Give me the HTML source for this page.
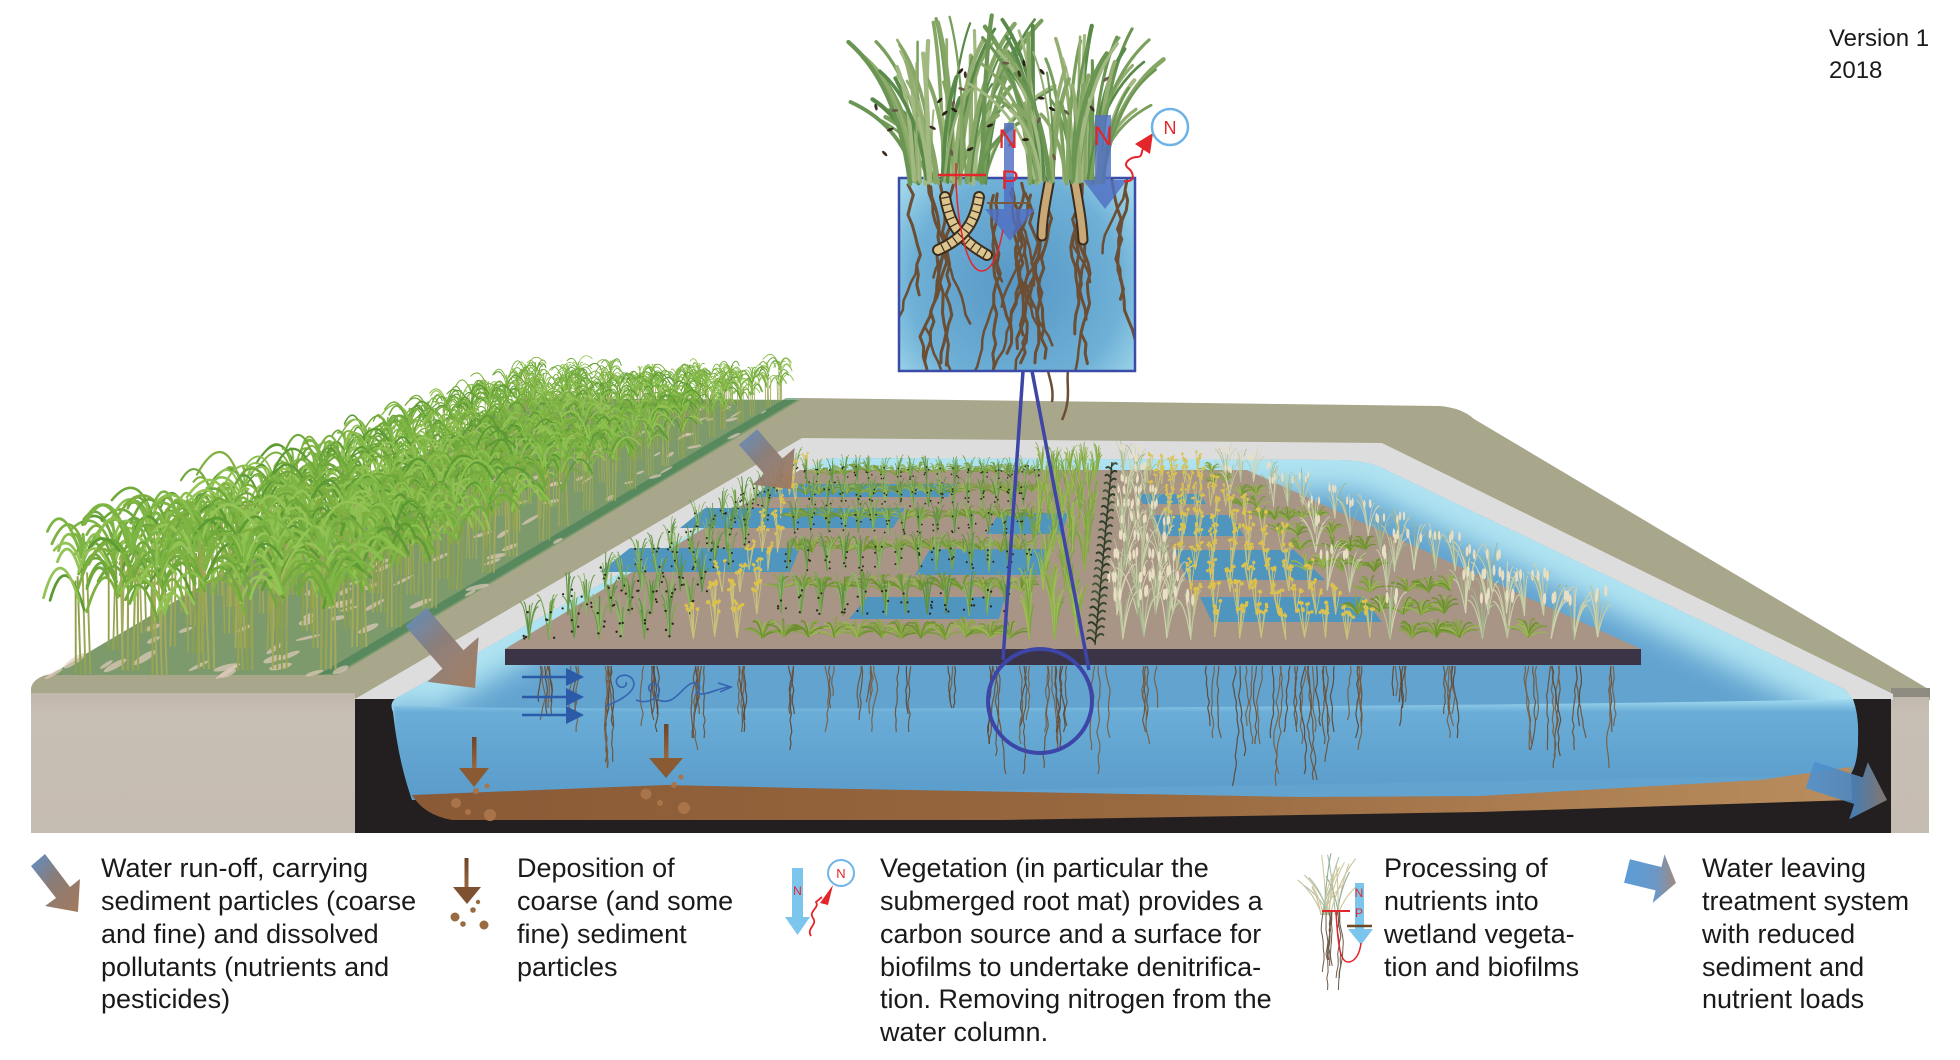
<!DOCTYPE html>
<html><head><meta charset="utf-8">
<style>
html,body{margin:0;padding:0;background:#fff;}
svg{display:block;}
text{font-family:"Liberation Sans",Arial,sans-serif;}
</style></head><body>
<svg id="s" width="1960" height="1060" viewBox="0 0 1960 1060" xmlns="http://www.w3.org/2000/svg">
<defs>
 <linearGradient id="wface" x1="0" y1="700" x2="0" y2="800" gradientUnits="userSpaceOnUse">
  <stop offset="0" stop-color="#9fd8ee"/><stop offset="0.12" stop-color="#6aadd7"/><stop offset="1" stop-color="#5a9bca"/>
 </linearGradient>
 <linearGradient id="sed" x1="412" y1="0" x2="1850" y2="0" gradientUnits="userSpaceOnUse">
  <stop offset="0" stop-color="#8a5a36"/><stop offset="0.5" stop-color="#98683f"/><stop offset="1" stop-color="#b98d5d"/>
 </linearGradient>
 <linearGradient id="ra" x1="0" y1="0" x2="1" y2="1">
  <stop offset="0" stop-color="#5f8fc6"/><stop offset="0.45" stop-color="#8a7c78"/><stop offset="1" stop-color="#a4795a"/>
 </linearGradient>
 <linearGradient id="ea" x1="0" y1="0" x2="1" y2="0">
  <stop offset="0" stop-color="#4f93d2"/><stop offset="0.6" stop-color="#4e86bd"/><stop offset="1" stop-color="#8d7f76"/>
 </linearGradient>
 <linearGradient id="la" x1="0" y1="0" x2="1" y2="0">
  <stop offset="0" stop-color="#5b9dd8"/><stop offset="0.6" stop-color="#6a98c8"/><stop offset="1" stop-color="#a08a80"/>
 </linearGradient>
 <linearGradient id="dep" x1="0" y1="0" x2="0" y2="1">
  <stop offset="0" stop-color="#6e4426"/><stop offset="1" stop-color="#9a683e"/>
 </linearGradient>
 <radialGradient id="boxg" cx="1016" cy="285" r="150" gradientUnits="userSpaceOnUse">
  <stop offset="0" stop-color="#5797c6"/><stop offset="0.7" stop-color="#6eb0d6"/><stop offset="1" stop-color="#9fd6ea"/>
 </radialGradient>
 <linearGradient id="beige" x1="0" y1="0" x2="0" y2="1">
  <stop offset="0" stop-color="#bfb6ac"/><stop offset="0.15" stop-color="#c7beb4"/><stop offset="1" stop-color="#c5bcb2"/>
 </linearGradient>
 <clipPath id="boxclip"><rect x="899" y="178" width="236" height="193"/></clipPath>
 <clipPath id="wclip"><path d="M393,712 Q388,701 400,696 L818,463 Q826,458 838,458 L1340,460 Q1370,461 1386,470 L1844,689 Q1858,700 1858,735 Q1858,765 1850,772 L1850,800 L412,800 Q398,760 393,712 Z"/></clipPath>
 <filter id="blur" x="-10%" y="-10%" width="120%" height="120%"><feGaussianBlur stdDeviation="14"/></filter>
</defs>

<!-- khaki embankment -->
<path d="M31,698 L31,688 Q33,679 46,675 L57,673 L337,673 L800,398 L1440,406 Q1462,408 1474,419 L1930,690 L1930,700 Z" fill="#a8a68b"/>
<!-- beige blocks -->
<rect x="31" y="693" width="324" height="140" fill="url(#beige)"/>
<rect x="1891" y="694" width="38" height="139" fill="url(#beige)"/>
<path d="M1891,688 L1930,688 L1930,697 L1891,697 Z" fill="#8e8b80"/>

<!-- field floor -->
<path d="M50,675 L337,675 L800,400 L520,398 Z" fill="#7c9a6c"/>
<path d="M318,675 L337,673 L800,398 L786,398 Z" fill="#3f7d55" opacity="0.6"/>
<g id="floor"></g>

<!-- gray rim -->
<path d="M355,699 L802,438 L1382,443 L1893,694 L1893,700 L355,700 Z" fill="#dddddd"/>
<!-- pit -->
<rect x="355" y="699" width="1536" height="134" fill="#231f20"/>
<!-- water surface -->
<path d="M393,712 Q388,701 400,696 L818,463 Q826,458 838,458 L1340,460 Q1370,461 1386,470 L1844,689 Q1858,700 1858,735 Q1858,765 1850,772 L1850,800 L412,800 Q398,760 393,712 Z" fill="#62a3cf"/>
<g clip-path="url(#wclip)">
 <path d="M393,712 Q388,701 400,696 L818,463 Q826,458 838,458 L1340,460 Q1370,461 1386,470 L1844,689 Q1858,700 1858,735 Q1858,765 1850,772" fill="none" stroke="#b0e4f2" stroke-width="60" filter="url(#blur)"/>
</g>
<!-- water front face -->
<path d="M394,706 C600,712 1500,707 1853,699 Q1859,715 1858,738 Q1858,765 1850,775 L412,800 Q399,760 394,706 Z" fill="url(#wface)"/>
<!-- sediment -->
<path d="M412,795 L666,785 L800,788 L1300,797 L1480,796 L1760,780 L1851,767 L1852,800 L1480,812 L1000,820 L452,820 Q424,815 412,795 Z" fill="url(#sed)"/>
<g fill="#a9744a">
 <circle cx="456" cy="803" r="5"/><circle cx="468" cy="812" r="3"/><circle cx="490" cy="815" r="6"/><circle cx="476" cy="791" r="3"/><circle cx="487" cy="786" r="2.5"/>
 <circle cx="646" cy="794" r="5.5"/><circle cx="660" cy="803" r="3"/><circle cx="684" cy="808" r="6"/><circle cx="674" cy="785" r="3"/><circle cx="681" cy="777" r="2.5"/>
</g>

<!-- platform -->
<path d="M505,649 L1641,649 L1247,470 L800,470 Z" fill="#a89585"/>
<g fill="#4f95bd">
 <path d="M768,484 L955,484 L948,497 L755,497 Z"/>
 <path d="M705,508 L905,508 L893,528 L680,528 Z"/>
 <path d="M630,548 L800,548 L790,572 L600,572 Z"/>
 <path d="M999,513 L1068,513 L1062,534 L986,534 Z"/>
 <path d="M930,549 L1049,549 L1040,575 L915,575 Z"/>
 <path d="M867,597 L1005,597 L999,619 L849,619 Z"/>
 <path d="M1137,494 L1200,494 L1206,504 L1143,504 Z"/>
 <path d="M1153,515 L1231,515 L1244,536 L1162,536 Z"/>
 <path d="M1175,550 L1294,550 L1325,580 L1187,580 Z"/>
 <path d="M1200,597 L1363,597 L1382,622 L1212,622 Z"/>
</g>
<rect x="505" y="649" width="1136" height="16" fill="#3a3446"/>
<g id="plat"></g>
<g id="proots"></g>

<!-- field plants -->
<g id="field"></g>

<!-- flow arrows -->
<g fill="#2b5aa8" stroke="#2b5aa8">
 <line x1="522" y1="677" x2="568" y2="677" stroke-width="2.5"/><polygon points="566,668 584,677 566,686" stroke="none"/>
 <line x1="522" y1="697" x2="568" y2="697" stroke-width="2.5"/><polygon points="566,688 584,697 566,706" stroke="none"/>
 <line x1="522" y1="715" x2="568" y2="715" stroke-width="2.5"/><polygon points="566,706 584,715 566,724" stroke="none"/>
</g>
<g fill="none" stroke="#3565b0" stroke-width="1.6">
 <path d="M606,706 C622,700 638,690 633,680 C628,671 613,676 617,684 C620,690 628,687 626,682"/>
 <path d="M636,700 C650,706 664,694 658,686 C652,679 645,688 651,692"/>
 <path d="M658,700 C674,706 680,690 690,684 C699,679 703,690 696,693"/>
 <path d="M696,693 C706,697 716,688 730,687"/>
 <path d="M718,683 L731,687 L720,692"/>
</g>
<!-- deposition arrows -->
<rect x="472" y="737" width="4.5" height="32" fill="url(#dep)"/>
<polygon points="459,768 489,768 474,787" fill="#8a5a33"/>
<rect x="664" y="724" width="4.5" height="35" fill="url(#dep)"/>
<polygon points="649,758 683,758 666,778" fill="#8a5a33"/>

<!-- run-off arrows -->
<polygon points="426.5,607.8 463.5,650.2 478.6,637 475,688 427.4,681.8 442.5,668.6 405.5,626.2" fill="url(#ra)" opacity="0.95"/>
<polygon points="757.1,429.2 782.5,458.5 794.6,448 791,489 752.2,484.6 764.3,474.1 738.9,444.8" fill="url(#ra)" opacity="0.95"/>
<!-- exit arrow -->
<polygon points="1814.3,761.7 1862.8,777.4 1867.8,762.2 1887,800 1849.2,819.2 1854.2,804 1805.7,788.3" fill="url(#ea)" opacity="0.9"/>

<!-- magnifier -->
<circle cx="1040" cy="701" r="52" fill="none" stroke="#3d45a6" stroke-width="4"/>
<line x1="1023" y1="371" x2="1003" y2="660" stroke="#3d45a6" stroke-width="3.5"/>
<line x1="1032" y1="371" x2="1089" y2="670" stroke="#3d45a6" stroke-width="3.5"/>
<path d="M1068,371 C1066,385 1072,398 1062,420" fill="none" stroke="#6b4e34" stroke-width="2.5"/>
<path d="M1048,371 C1050,380 1054,390 1052,402" fill="none" stroke="#6b4e34" stroke-width="2.5"/>

<!-- inset box -->
<rect x="899" y="178" width="236" height="193" fill="url(#boxg)"/>
<g id="iroots" clip-path="url(#boxclip)"></g>
<g fill="none">
 <path d="M945,197 C950,225 960,240 987,255" stroke="#3b2c1c" stroke-width="12" stroke-linecap="round"/>
 <path d="M945,197 C950,225 960,240 987,255" stroke="#dcc58f" stroke-width="8" stroke-linecap="round"/>
 <path d="M945,197 C950,225 960,240 987,255" stroke="#3b2c1c" stroke-width="8" stroke-dasharray="1.2 6" stroke-linecap="butt"/>
 <path d="M979,197 C975,222 965,238 938,250" stroke="#3b2c1c" stroke-width="12" stroke-linecap="round"/>
 <path d="M979,197 C975,222 965,238 938,250" stroke="#dcc58f" stroke-width="8" stroke-linecap="round"/>
 <path d="M979,197 C975,222 965,238 938,250" stroke="#3b2c1c" stroke-width="8" stroke-dasharray="1.2 6" stroke-linecap="butt"/>
 <path d="M1049,183 C1046,200 1042,220 1042,236" stroke="#3b2c1c" stroke-width="11" stroke-linecap="round"/>
 <path d="M1049,183 C1046,200 1042,220 1042,236" stroke="#c9a878" stroke-width="7" stroke-linecap="round"/>
 <path d="M1074,176 C1078,200 1082,220 1083,240" stroke="#3b2c1c" stroke-width="11" stroke-linecap="round"/>
 <path d="M1074,176 C1078,200 1082,220 1083,240" stroke="#c9a878" stroke-width="7" stroke-linecap="round"/>
</g>
<rect x="899" y="178" width="236" height="193" fill="none" stroke="#3b4ba8" stroke-width="2.5"/>
<g id="igrass"></g>
<!-- inset arrows -->
<g fill="#5070c4" opacity="0.82">
 <rect x="1004" y="123" width="10" height="87"/>
 <polygon points="985,209 1035,209 1010,241"/>
 <rect x="1095" y="115" width="16" height="66"/>
 <polygon points="1083,180 1127,180 1105,209"/>
</g>
<line x1="938" y1="175" x2="986" y2="175" stroke="#e3262b" stroke-width="2.5"/>
<line x1="956" y1="163" x2="956" y2="188" stroke="#e3262b" stroke-width="1.5"/>
<path d="M956,182 C958,230 968,272 982,271 C995,270 1000,245 1003,230" fill="none" stroke="#e3262b" stroke-width="1.5"/>
<line x1="987" y1="203" x2="1031" y2="203" stroke="#7a5a3a" stroke-width="2"/>
<text x="1008" y="148" font-size="27" fill="#e3262b" text-anchor="middle">N</text>
<text x="1010" y="189" font-size="27" fill="#e3262b" text-anchor="middle">P</text>
<text x="1103" y="145" font-size="27" fill="#e3262b" text-anchor="middle">N</text>
<path d="M1124,181 C1136,183 1134,172 1128,168 C1122,163 1131,157 1137,157 C1144,157 1140,150 1145,146" fill="none" stroke="#e3262b" stroke-width="2"/>
<polygon points="1153,133 1135,144 1150,154" fill="#e3262b"/>
<circle cx="1170" cy="127" r="18" fill="#fff" stroke="#6db3e5" stroke-width="2.5"/>
<text x="1170" y="134" font-size="18" fill="#e3262b" text-anchor="middle">N</text>

<!-- legend icons -->
<polygon points="45,854 70,887 80,879 78,912 45,906 56,898 31,866" fill="url(#ra)"/>
<rect x="464.5" y="858" width="4" height="30" fill="url(#dep)"/>
<polygon points="453,887 481,887 467,904" fill="#7e5230"/>
<g fill="#9a6a40">
 <circle cx="455" cy="917" r="4.5"/><circle cx="473" cy="910" r="2.8"/><circle cx="478" cy="902" r="2.2"/><circle cx="484" cy="925" r="4.5"/><circle cx="463" cy="924" r="2.8"/>
</g>
<rect x="792" y="868" width="11" height="50" fill="#7cc6ee"/>
<polygon points="785,917 810,917 797.5,935" fill="#7cc6ee"/>
<text x="797.5" y="895" font-size="12" fill="#e3262b" text-anchor="middle">N</text>
<path d="M811,936 C806,928 818,925 813,918 C808,911 820,908 816,902 L822,897" fill="none" stroke="#e3262b" stroke-width="1.8"/>
<polygon points="820,903 833,885 828,905" fill="#e3262b"/>
<circle cx="841" cy="873" r="13" fill="#fff" stroke="#70b3e6" stroke-width="2"/>
<text x="841" y="878" font-size="13" fill="#e3262b" text-anchor="middle">N</text>
<g id="licon"></g>
<rect x="1355" y="883" width="9" height="47" fill="#7cc6ee"/>
<polygon points="1348,929 1373,929 1361,945" fill="#7cc6ee"/>
<text x="1359" y="897" font-size="12" fill="#e3262b" text-anchor="middle">N</text>
<text x="1359" y="917" font-size="12" fill="#e3262b" text-anchor="middle">P</text>
<line x1="1322" y1="911" x2="1350" y2="911" stroke="#e3262b" stroke-width="2"/>
<line x1="1347" y1="926" x2="1372" y2="926" stroke="#6b4a2a" stroke-width="2.5"/>
<path d="M1336,912 C1338,945 1340,962 1348,962 C1356,962 1360,952 1361,943" fill="none" stroke="#e3262b" stroke-width="1.5"/>
<polygon points="1629.9,859.3 1661.4,867 1664.5,854.4 1676,883 1652.6,903 1655.6,890.4 1624.1,882.7" fill="url(#la)"/>

<!-- legend text -->
<g font-size="27" fill="#1a1a1a">
 <text x="101" y="877">Water run-off, carrying</text>
 <text x="101" y="910">sediment particles (coarse</text>
 <text x="101" y="943">and fine) and dissolved</text>
 <text x="101" y="976">pollutants (nutrients and</text>
 <text x="101" y="1008">pesticides)</text>
 <text x="517" y="877">Deposition of</text>
 <text x="517" y="910">coarse (and some</text>
 <text x="517" y="943">fine) sediment</text>
 <text x="517" y="976">particles</text>
 <text x="880" y="877">Vegetation (in particular the</text>
 <text x="880" y="910">submerged root mat) provides a</text>
 <text x="880" y="943">carbon source and a surface for</text>
 <text x="880" y="976">biofilms to undertake denitrifica-</text>
 <text x="880" y="1008">tion. Removing nitrogen from the</text>
 <text x="880" y="1041">water column.</text>
 <text x="1384" y="877">Processing of</text>
 <text x="1384" y="910">nutrients into</text>
 <text x="1384" y="943">wetland vegeta-</text>
 <text x="1384" y="976">tion and biofilms</text>
 <text x="1702" y="877">Water leaving</text>
 <text x="1702" y="910">treatment system</text>
 <text x="1702" y="943">with reduced</text>
 <text x="1702" y="976">sediment and</text>
 <text x="1702" y="1008">nutrient loads</text>
</g>
<text x="1829" y="46" font-size="24" fill="#1a1a1a">Version 1</text>
<text x="1829" y="78" font-size="24" fill="#1a1a1a">2018</text>
</svg>
<script>
(function(){
var NS='http://www.w3.org/2000/svg';
var sd=7;
function R(){sd=(sd*16807)%2147483647;return (sd-1)/2147483646;}
function E(p,t,a){var e=document.createElementNS(NS,t);for(var k in a)e.setAttribute(k,a[k]);p.appendChild(e);return e;}
function pick(a){return a[Math.floor(R()*a.length)];}
function f(v){return Math.round(v*10)/10;}
function $(id){return document.getElementById(id);}

/* field floor patches */
var gFl=$('floor');
for(var i=0;i<110;i++){var t=R(),w=R();var Lx=50+470*t,Ly=675-277*t,Rx=337+463*t,Ry=673-275*t;
 var x=Lx+w*(Rx-Lx),y=Ly+w*(Ry-Ly);var s=0.4+0.6*(y-398)/277;
 E(gFl,'ellipse',{cx:f(x),cy:f(y),rx:f(7*s+R()*8*s),ry:f(1.6*s+R()*2*s),fill:'#e2cbbc',opacity:0.7,transform:'rotate('+f(-35+R()*25)+' '+f(x)+' '+f(y)+')'});}

/* field plants */
var gF=$('field');var plants=[];
for(var r=0;r<7;r++){var w=1-(r+0.5)/7*0.97;var t=R()*0.02;
 while(t<0.99){var Lx=50+470*t,Ly=675-277*t,Rx=337+463*t,Ry=673-275*t;
  var x=Lx+w*(Rx-Lx)+(R()-0.5)*8,y=Ly+w*(Ry-Ly)+(R()-0.5)*4;var h=(40+104*(y-398)/275)*(0.92+R()*0.12);
  plants.push([x,y,h]);t+=(h*0.3)/538;}}
plants.sort(function(a,b){return a[1]-b[1];});
var leafC=['#6ea93a','#7db544','#5c9a34','#8cc04e','#71a83d','#94c456','#7fb03f'];
plants.forEach(function(p){var x=p[0],y=p[1],h=p[2];
 var sw=Math.max(0.8,h*0.014);
 for(var i=0;i<4;i++){var x0=x+(i-1.5)*h*0.035;var x1=x0+(R()-0.5)*h*0.06;
  E(gF,'path',{d:'M'+f(x0)+' '+f(y)+'L'+f(x1)+' '+f(y-h*(0.65+R()*0.25)),stroke:pick(['#9aa552','#8fa04c','#a4aa5a']),'stroke-width':f(sw),fill:'none'});}
 for(var i=0;i<14;i++){var a=h*(0.4+R()*0.5);var d=R()<0.5?-1:1;var L=h*(0.25+R()*0.25);
  var sx=x+(R()-0.5)*h*0.08,sy=y-a;var cx=sx+d*L*0.3,cy=sy-L*1.0,ex=sx+d*L*(0.5+R()*0.35),ey=sy-L*0.55+R()*L*0.5;
  E(gF,'path',{d:'M'+f(sx)+' '+f(sy)+'Q'+f(cx)+' '+f(cy)+' '+f(ex)+' '+f(ey),stroke:pick(leafC),'stroke-width':f(Math.max(0.9,h*0.02)),fill:'none','stroke-linecap':'round'});}
 for(var i=0;i<3;i++){var d=i-1;var sx=x+(R()-0.5)*h*0.05,sy=y-h*0.8;
  E(gF,'path',{d:'M'+f(sx)+' '+f(sy)+'Q'+f(sx+d*h*0.04)+' '+f(sy-h*0.24)+' '+f(sx+d*h*0.1+(R()-0.5)*h*0.08)+' '+f(sy-h*0.2),stroke:pick(['#7db544','#8ec052']),'stroke-width':f(Math.max(0.9,h*0.02)),fill:'none','stroke-linecap':'round'});}
});

/* platform plants */
var gP=$('plat');
function blades(x,y,s,n,amin,amax,Lb,cols,wd,droop){
 for(var i=0;i<n;i++){var th=(amin+R()*(amax-amin))*Math.PI/180;var L=Lb*s*(0.7+R()*0.5);
  var ex=x+Math.sin(th)*L,ey=y-Math.cos(th)*L*(droop?0.8:1);var mx=x+Math.sin(th)*L*0.45,my=y-Math.cos(th)*L*0.95;
  E(gP,'path',{d:'M'+f(x)+' '+f(y)+'Q'+f(mx)+' '+f(my)+' '+f(ex)+' '+f(ey),stroke:pick(cols),'stroke-width':f(wd*s),fill:'none','stroke-linecap':'round'});}}
function clump(x,y,s){blades(x,y,s,15,-72,72,21,['#6d8f2f','#89a645','#7a9b3a','#9bb455'],1.5,true);}
function grass(x,y,s){blades(x,y,s,8,-16,16,40,['#7aa652','#679a4a','#8db868','#5c8c44'],1.2,false);
 for(var i=0;i<4;i++)E(gP,'circle',{cx:f(x+(R()-0.5)*12*s),cy:f(y-R()*28*s),r:f(0.9*s+0.3),fill:'#2c2418'});}
function green(x,y,s){blades(x,y,s,11,-14,14,48,['#8db04a','#7ba043','#9cbc55'],1.4,false);}
function yel(x,y,s){for(var i=0;i<5;i++){var th=(-12+R()*24)*Math.PI/180;var L=36*s*(0.7+R()*0.4);var ex=x+Math.sin(th)*L,ey=y-Math.cos(th)*L;
 E(gP,'path',{d:'M'+f(x)+' '+f(y)+'L'+f(ex)+' '+f(ey),stroke:'#c9c27a','stroke-width':f(1*s),fill:'none'});
 for(var j=0;j<2;j++)E(gP,'circle',{cx:f(ex+(R()-0.5)*4*s),cy:f(ey+R()*4*s),r:f(1.8*s),fill:'#dcc24a'});}}
function pale(x,y,s){blades(x,y,s,7,-25,25,50,['#d6d3b0','#b9c49c','#c9cfa9','#9fb48a'],1.2,false);
 for(var i=0;i<3;i++)E(gP,'ellipse',{cx:f(x+(R()-0.5)*18*s),cy:f(y-48*s+R()*8*s),rx:f(1.6*s),ry:f(6*s),fill:'#e8dfc4'});}
var regs=[[505,790,'grass'],[680,800,'yel'],[755,810,'mix'],[1025,1040,'green'],[1078,1098,'dark'],[1115,1122,'pale'],[1195,1140,'yel'],[1385,1200,'clump'],[1560,1230,'pale']];
var rows=[474,483,494,506,519,534,551,570,591,614,638];
rows.forEach(function(y0,ri){var v=(649-y0)/177;var s=0.55+0.45*(1-v);
 var xl=505+(649-y0)*1.64,xr=1641-(649-y0)*2.29;var x=xl+6*s;
 while(x<xr-5*s){var typ='grass';for(var k=0;k<regs.length;k++){var b=regs[k][0]+(regs[k][1]-regs[k][0])*v;if(x>=b)typ=regs[k][2];}
  var y=y0+(R()-0.5)*3;
  if(typ==='grass')grass(x,y,s);else if(typ==='yel')yel(x,y,s);else if(typ==='mix'){if(ri%2===0)clump(x,y,s);else grass(x,y,s);}
  else if(typ==='green')green(x,y,s);else if(typ==='pale')pale(x,y,s);else if(typ==='clump'){if(R()<0.7)clump(x,y,s);else pale(x,y,s);}
  x+=(19+R()*8)*s;}
});
/* dark plant column */
for(var t=0;t<=1;t+=0.022){var x=1095+17*t,y=642-178*t;var d=(Math.round(t*45)%2)?1:-1;var L=8-3*t;
 E(gP,'path',{d:'M'+f(x)+' '+f(y)+'q'+f(d*L*0.6)+' '+f(-L*0.8)+' '+f(d*L)+' '+f(-L*0.4),stroke:pick(['#2f3b2a','#46553a','#3a4832']),'stroke-width':'2',fill:'none','stroke-linecap':'round'});}
E(gP,'path',{d:'M1095,645 L1112,462',stroke:'#2f3a28','stroke-width':'1.3',fill:'none'});

/* roots under platform */
var gR=$('proots');
function rootCl(x,n,Lmax){for(var i=0;i<n;i++){var px=x+(R()-0.5)*14,py=666;var L=Lmax*(0.4+R()*0.6);var d='M'+f(px)+' '+f(py);
 while(py<666+L){py+=6;px+=(R()-0.5)*3.6;d+='L'+f(px)+' '+f(py);}
 E(gR,'path',{d:d,stroke:pick(['#6b4f34','#5e4430','#7a5c3e']),'stroke-width':'1.2',fill:'none',opacity:'0.9'});}}
var rx=[545,575,612,650,700,745,790,830,868,905,950,992,1025,1045,1062,1100,1150,1212,1240,1258,1275,1292,1310,1330,1355,1400,1450,1530,1555,1575,1615];
rx.forEach(function(x){var Lm=(x>1230&&x<1340)?120:(x>980&&x<1110)?110:(60+R()*50);rootCl(x,3+Math.floor(R()*4),Lm);});

/* inset roots */
var gI=$('iroots');
for(var i=0;i<20;i++){var px=905+R()*222,py=178+R()*18;var end=290+R()*95;var d='M'+f(px)+' '+f(py);var dr=(R()-0.5)*2;
 while(py<end){py+=10;px+=dr+(R()-0.5)*9;d+='L'+f(px)+' '+f(py);
  if(R()<0.06){var bx=px,by=py,bd='M'+f(bx)+' '+f(by);var bl=by+30+R()*50;var bdr=(R()<0.5?-3:3);while(by<bl){by+=9;bx+=bdr+(R()-0.5)*6;bd+='L'+f(bx)+' '+f(by);}
   E(gI,'path',{d:bd,stroke:'#6b4e34','stroke-width':'2.5',fill:'none','stroke-linejoin':'round','stroke-linecap':'round'});}}
 E(gI,'path',{d:d,stroke:'#6b4e34','stroke-width':'3',fill:'none','stroke-linejoin':'round','stroke-linecap':'round'});}

/* inset grass */
var gG=$('igrass');
function clumpInset(cx,n){for(var i=0;i<n;i++){var bx=cx+(R()-0.5)*76,by=178+R()*6;var tx=bx+(bx-cx)*1.0+(R()-0.5)*70,ty=14+R()*105;
 var mx=bx+(tx-bx)*0.2,my=by-(by-ty)*0.7;
 E(gG,'path',{d:'M'+f(bx)+' '+f(by)+'Q'+f(mx)+' '+f(my)+' '+f(tx)+' '+f(ty),stroke:pick(['#86a665','#6a9553','#a2b982','#78a05c','#5a8a4a','#93ae70']),'stroke-width':f(2+R()*2.5),fill:'none','stroke-linecap':'round'});}}
clumpInset(948,70);clumpInset(1066,70);
for(var i=0;i<28;i++){var x=875+R()*260,y=60+R()*100;E(gG,'ellipse',{cx:f(x),cy:f(y),rx:'3.5',ry:'1.5',fill:pick(['#3d2e22','#6b5a48','#2a2018']),transform:'rotate('+f(R()*180)+' '+f(x)+' '+f(y)+')'});}

/* legend plant icon */
var gL=$('licon');
for(var i=0;i<22;i++){var bx=1330+(R()-0.5)*18,by=915;var tx=bx+(R()-0.5)*55,ty=853+R()*35;
 E(gL,'path',{d:'M'+f(bx)+' '+f(by)+'Q'+f(bx+(tx-bx)*0.3)+' '+f(by-(by-ty)*0.6)+' '+f(tx)+' '+f(ty),stroke:pick(['#a9c0a8','#c8c49a','#8fae9a','#d4c9a0']),'stroke-width':'1.1',fill:'none'});}
for(var i=0;i<9;i++){var px=1322+R()*22,py=912;var d='M'+f(px)+' '+f(py);var end=955+R()*40;while(py<end){py+=6;px+=(R()-0.5)*3;d+='L'+f(px)+' '+f(py);}
 E(gL,'path',{d:d,stroke:'#6b5a48','stroke-width':'1',fill:'none'});}
})();
</script>
</body></html>
